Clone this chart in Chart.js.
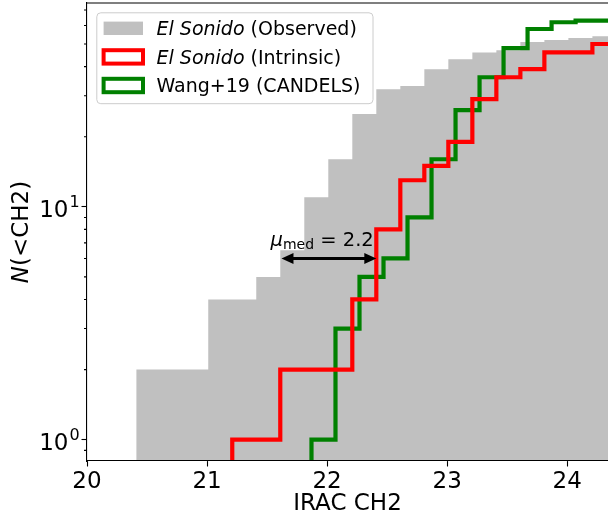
<!DOCTYPE html>
<html>
<head>
<meta charset="utf-8">
<script src="https://cdn.jsdelivr.net/npm/chart.js@4.4.1/dist/chart.umd.min.js"></script>
<style>
html, body { margin: 0; padding: 0; background: #fff; }
</style>
</head>
<body>
<canvas id="chart" width="608" height="518"></canvas>
<script>
// cumulative counts; each edges array has one extra value that closes the last bin
var obsEdges = [20.41, 21.01, 21.41, 21.61, 21.81, 22.01, 22.21, 22.41, 22.61, 22.81, 23.01, 23.21, 23.41, 23.61, 23.81, 24.01, 24.21, 24.41];
var obsCounts = [2, 4, 5, 6.5, 11, 16, 25, 32, 33, 39, 43, 46, 47, 51, 52, 53, 54];
var intrEdges = [21.21, 21.61, 22.21, 22.41, 22.61, 22.81, 23.01, 23.21, 23.41, 23.61, 23.81, 24.21, 24.41];
var intrCounts = [1, 2, 4, 8, 13, 15, 19, 29, 36, 39, 46, 50];
var wangEdges = [21.87, 22.07, 22.27, 22.47, 22.67, 22.87, 23.07, 23.27, 23.47, 23.67, 23.87, 24.07, 24.47];
var wangCounts = [1, 3, 5, 6, 9, 16, 26, 36, 48, 58, 62, 63];

var xTicks = [20, 21, 22, 23, 24];
var yTicks = [0.9, 1, 2, 3, 4, 5, 6, 7, 8, 9, 10, 20, 30, 40, 50, 60, 70];
var yMajor = [1, 10];
var yMajorExp = ['0', '1'];

// median magnification arrow
var muFrom = 21.62;
var muTo = 22.41;
var muLevel = 6;
var muText = '2.2';

var FONT = 'DejaVu Sans';

function stepPoints(edges, counts, floor) {
    var pts = [];
    if (floor) pts.push({ x: edges[0], y: floor });
    for (var i = 0; i < counts.length; i++) {
        pts.push({ x: edges[i], y: counts[i] });
    }
    pts.push({ x: edges[edges.length - 1], y: counts[counts.length - 1] });
    return pts;
}

var legendItems = [
    { italic: 'El Sonido', rest: ' (Observed)', kind: 'fill', color: '#c0c0c0' },
    { italic: 'El Sonido', rest: ' (Intrinsic)', kind: 'line', color: '#ff0000' },
    { italic: '', rest: 'Wang+19 (CANDELS)', kind: 'line', color: '#008000' }
];

var decor = {
    id: 'decor',
    afterDraw: function(chart) {
        var c = chart.ctx, a = chart.chartArea;
        var xs = chart.scales.x, ys = chart.scales.y;
        c.save();

        // top spine
        c.strokeStyle = '#000';
        c.lineWidth = 1.1;
        c.beginPath();
        c.moveTo(a.left, a.top);
        c.lineTo(a.right, a.top);
        c.stroke();

        // minor ticks on the log axis
        c.beginPath();
        yTicks.forEach(function(v) {
            if (yMajor.indexOf(v) >= 0) return;
            var p = ys.getPixelForValue(v);
            c.moveTo(a.left - 3, p);
            c.lineTo(a.left, p);
        });
        c.stroke();

        // 10^n labels
        c.fillStyle = '#000';
        c.textBaseline = 'alphabetic';
        yMajor.forEach(function(v, i) {
            var p = ys.getPixelForValue(v);
            c.font = '23px "' + FONT + '"';
            c.textAlign = 'right';
            c.fillText('10', 68.5, p + 10);
            c.font = '16px "' + FONT + '"';
            c.textAlign = 'left';
            c.fillText(yMajorExp[i], 69.5, p);
        });

        // y title: N(<CH2) with italic N
        c.save();
        c.translate(28, (a.top + a.bottom) / 2);
        c.rotate(-Math.PI / 2);
        c.font = 'italic 23px "' + FONT + '"';
        var wN = c.measureText('N').width;
        c.font = '23px "' + FONT + '"';
        var wR = c.measureText('(<CH2)').width;
        var x0 = -(wN + wR) / 2;
        c.textAlign = 'left';
        c.font = 'italic 23px "' + FONT + '"';
        c.fillText('N', x0, 0);
        c.font = '23px "' + FONT + '"';
        c.fillText('(<CH2)', x0 + wN, 0);
        c.restore();

        // double arrow
        var x1 = xs.getPixelForValue(muFrom), x2 = xs.getPixelForValue(muTo);
        var y = ys.getPixelForValue(muLevel);
        var head = 12, hw = 5.5;
        c.lineWidth = 3;
        c.beginPath();
        c.moveTo(x1 + head - 2, y);
        c.lineTo(x2 - head + 2, y);
        c.stroke();
        c.beginPath();
        c.moveTo(x1, y);
        c.lineTo(x1 + head, y - hw);
        c.lineTo(x1 + head, y + hw);
        c.closePath();
        c.moveTo(x2, y);
        c.lineTo(x2 - head, y - hw);
        c.lineTo(x2 - head, y + hw);
        c.closePath();
        c.fill();

        // mu_med = 2.2
        var tx = x1 - 11, ty = y - 12;
        c.textAlign = 'left';
        c.font = 'italic 19.5px "' + FONT + '"';
        c.fillText('\u03bc', tx, ty);
        tx += c.measureText('\u03bc').width;
        c.font = '14px "' + FONT + '"';
        c.fillText('med', tx, ty + 3);
        tx += c.measureText('med').width;
        c.font = '19.5px "' + FONT + '"';
        c.fillText(' = ' + muText, tx, ty);

        // legend
        var lx = 96.8, ly = 12.8, lw = 276.2, lh = 90.9, r = 4;
        c.beginPath();
        c.moveTo(lx + r, ly);
        c.lineTo(lx + lw - r, ly);
        c.arcTo(lx + lw, ly, lx + lw, ly + r, r);
        c.lineTo(lx + lw, ly + lh - r);
        c.arcTo(lx + lw, ly + lh, lx + lw - r, ly + lh, r);
        c.lineTo(lx + r, ly + lh);
        c.arcTo(lx, ly + lh, lx, ly + lh - r, r);
        c.lineTo(lx, ly + r);
        c.arcTo(lx, ly, lx + r, ly, r);
        c.closePath();
        c.fillStyle = 'rgba(255,255,255,0.8)';
        c.fill();
        c.strokeStyle = '#cccccc';
        c.lineWidth = 1;
        c.stroke();

        legendItems.forEach(function(it, i) {
            var cy = 28.3 + i * 28.6;
            var px = 103.6, pw = 39.4, ph = 13.4;
            if (it.kind === 'fill') {
                c.fillStyle = it.color;
                c.fillRect(px, cy - ph / 2, pw, ph);
            } else {
                c.strokeStyle = it.color;
                c.lineWidth = 4;
                c.strokeRect(px, cy - ph / 2, pw, ph);
            }
            c.fillStyle = '#000';
            var tx2 = 156.5, base = cy + 6.8;
            if (it.italic) {
                c.font = 'italic 19px "' + FONT + '"';
                c.fillText(it.italic, tx2, base);
                tx2 += c.measureText(it.italic).width;
            }
            c.font = '19px "' + FONT + '"';
            c.fillText(it.rest, tx2, base);
        });

        c.restore();
    }
};

var ctx = document.getElementById('chart').getContext('2d');
var chart = new Chart(ctx, {
    type: 'line',
    data: {
        datasets: [{
            label: 'El Sonido (Intrinsic)',
            data: stepPoints(intrEdges, intrCounts, 0.5),
            borderColor: '#ff0000',
            borderWidth: 4.2,
            stepped: true,
            fill: false,
            pointRadius: 0,
            clip: 0,
            order: 0
        }, {
            label: 'Wang+19 (CANDELS)',
            data: stepPoints(wangEdges, wangCounts, 0.5),
            borderColor: '#008000',
            borderWidth: 4.2,
            stepped: true,
            fill: false,
            pointRadius: 0,
            clip: 0,
            order: 1
        }, {
            label: 'El Sonido (Observed)',
            data: stepPoints(obsEdges, obsCounts),
            borderColor: 'rgba(0,0,0,0)',
            backgroundColor: '#c0c0c0',
            borderWidth: 1,
            stepped: true,
            fill: 'start',
            pointRadius: 0,
            clip: 0,
            order: 2
        }]
    },
    options: {
        responsive: false,
        animation: false,
        devicePixelRatio: 1,
        layout: { padding: { top: 3, left: 0, right: 0, bottom: 0 } },
        plugins: {
            legend: { display: false },
            tooltip: { enabled: false }
        },
        scales: {
            x: {
                type: 'linear',
                min: 20,
                max: 24.34,
                afterBuildTicks: function(s) { s.ticks = xTicks.map(function(v) { return { value: v }; }); },
                afterFit: function(s) { s.height = 57; },
                ticks: {
                    font: { family: FONT, size: 23 },
                    color: '#000',
                    padding: 2,
                    maxRotation: 0,
                    autoSkip: false,
                    callback: function(v) { return String(v); }
                },
                grid: { drawOnChartArea: false, drawTicks: true, tickLength: 5.5, tickWidth: 1.1, tickColor: '#000' },
                border: { display: true, color: '#000', width: 1.1, z: 1 },
                title: { display: true, text: 'IRAC CH2', font: { family: FONT, size: 23 }, color: '#000', padding: 0 }
            },
            y: {
                type: 'logarithmic',
                min: 0.81,
                max: 75,
                afterBuildTicks: function(s) { s.ticks = yTicks.map(function(v) { return { value: v }; }); },
                afterFit: function(s) { s.width = 87; },
                ticks: { display: false },
                grid: {
                    drawOnChartArea: false,
                    drawTicks: true,
                    tickLength: 5.5,
                    tickWidth: 1.1,
                    tickColor: function(c) { return yMajor.indexOf(c.tick.value) >= 0 ? '#000' : 'rgba(0,0,0,0)'; }
                },
                border: { display: true, color: '#000', width: 1.1, z: 1 }
            }
        }
    },
    plugins: [decor]
});
</script>
</body>
</html>
